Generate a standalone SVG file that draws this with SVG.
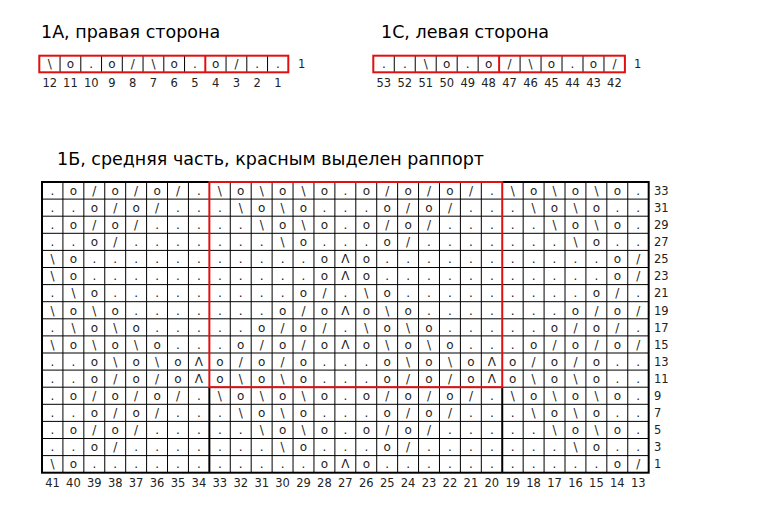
<svg xmlns="http://www.w3.org/2000/svg" width="766" height="524" viewBox="0 0 766 524">
<style>
.t{font-family:"DejaVu Sans",Verdana,sans-serif;fill:#000}
.title{font-size:17.5px}
.sym{font-size:12px;fill:#222;text-anchor:middle}
.num{font-size:11.5px;fill:#222;text-anchor:middle}
.rl{font-size:11.5px;fill:#222}
.grid{stroke:#000;stroke-width:1;fill:none}
.thick{stroke:#000;stroke-width:2;fill:none}
.red{stroke:#e01010;stroke-width:2;fill:none}
</style>
<rect width="766" height="524" fill="#fff"/>

<!-- 1A -->
<g id="chart-1A">
<text class="t title" x="41" y="38">1А, правая сторона</text>
<path class="grid" d="M60.05 55.7V72.3M80.8 55.7V72.3M101.55 55.7V72.3M122.3 55.7V72.3M143.05 55.7V72.3M163.8 55.7V72.3M184.55 55.7V72.3M226.05 55.7V72.3M246.8 55.7V72.3M267.55 55.7V72.3"/>
<path class="red" d="M205.3 55.7V72.3"/>
<rect class="red" x="39.3" y="55.7" width="249" height="16.6"/>
<text class="t sym" x="49.7 70.4 91.2 111.9 132.7 153.4 174.2 194.9 215.7 236.4 257.2 277.9" y="68">\o.o/\o.o/..</text>
<text class="t rl" x="298" y="68">1</text>
<g class="t num">
<text x="49.7" y="86.5">12</text><text x="70.4" y="86.5">11</text><text x="91.2" y="86.5">10</text><text x="111.9" y="86.5">9</text><text x="132.7" y="86.5">8</text><text x="153.4" y="86.5">7</text><text x="174.2" y="86.5">6</text><text x="194.9" y="86.5">5</text><text x="215.7" y="86.5">4</text><text x="236.4" y="86.5">3</text><text x="257.2" y="86.5">2</text><text x="277.9" y="86.5">1</text>
</g>
</g>

<!-- 1C -->
<g id="chart-1C">
<text class="t title" x="381" y="38">1С, левая сторона</text>
<path class="grid" d="M394.27 55.7V72.3M415.24 55.7V72.3M436.21 55.7V72.3M457.18 55.7V72.3M478.15 55.7V72.3M520.09 55.7V72.3M541.06 55.7V72.3M562.03 55.7V72.3M583 55.7V72.3M603.97 55.7V72.3"/>
<path class="red" d="M499.12 55.7V72.3"/>
<rect class="red" x="373.3" y="55.7" width="251.6" height="16.6"/>
<text class="t sym" x="383.8 404.8 425.7 446.7 467.7 488.6 509.6 530.6 551.5 572.5 593.5 614.4" y="68">..\o.o/\o.o/</text>
<text class="t rl" x="634" y="68">1</text>
<g class="t num">
<text x="383.8" y="86.5">53</text><text x="404.8" y="86.5">52</text><text x="425.7" y="86.5">51</text><text x="446.7" y="86.5">50</text><text x="467.7" y="86.5">49</text><text x="488.6" y="86.5">48</text><text x="509.6" y="86.5">47</text><text x="530.6" y="86.5">46</text><text x="551.5" y="86.5">45</text><text x="572.5" y="86.5">44</text><text x="593.5" y="86.5">43</text><text x="614.4" y="86.5">42</text>
</g>
</g>

<!-- 1B -->
<g id="chart-1B">
<text class="t title" x="57" y="165">1Б, средняя часть, красным выделен раппорт</text>
<path class="grid" d="M62.92 182V472.7M83.84 182V472.7M104.76 182V472.7M125.68 182V472.7M146.6 182V472.7M167.52 182V472.7M188.44 182V472.7M230.28 182V472.7M251.2 182V472.7M272.12 182V472.7M293.04 182V472.7M313.96 182V472.7M334.88 182V472.7M355.8 182V472.7M376.72 182V472.7M397.64 182V472.7M418.56 182V472.7M439.48 182V472.7M460.4 182V472.7M481.32 182V472.7M523.16 182V472.7M544.08 182V472.7M565 182V472.7M585.92 182V472.7M606.84 182V472.7M627.76 182V472.7M42 199.1H648.68M42 216.2H648.68M42 233.3H648.68M42 250.4H648.68M42 267.5H648.68M42 284.6H648.68M42 301.7H648.68M42 318.8H648.68M42 335.9H648.68M42 353H648.68M42 370.1H648.68M42 404.3H648.68M42 421.4H648.68M42 438.5H648.68M42 455.6H648.68"/>
<path class="grid" d="M42 387.2H648.68"/>
<rect class="thick" x="42" y="182" width="606.68" height="290.7"/>
<path class="thick" d="M209.36 387.2V472.7M502.24 387.2V472.7"/>
<rect class="red" x="209.36" y="182" width="292.88" height="205.2"/>
<g class="t sym">
<text x="52.5 73.4 94.3 115.2 136.1 157.1 178 198.9 219.8 240.7 261.7 282.6 303.5 324.4 345.3 366.3 387.2 408.1 429 449.9 470.9 491.8 512.7 533.6 554.5 575.5 596.4 617.3 638.2" y="194.8">.o/o/o/.\o\o\o.o/o/o/.\o\o\o.</text>
<text x="52.5 73.4 94.3 115.2 136.1 157.1 178 198.9 219.8 240.7 261.7 282.6 303.5 324.4 345.3 366.3 387.2 408.1 429 449.9 470.9 491.8 512.7 533.6 554.5 575.5 596.4 617.3 638.2" y="211.9">..o/o/...\o\o...o/o/...\o\o..</text>
<text x="52.5 73.4 94.3 115.2 136.1 157.1 178 198.9 219.8 240.7 261.7 282.6 303.5 324.4 345.3 366.3 387.2 408.1 429 449.9 470.9 491.8 512.7 533.6 554.5 575.5 596.4 617.3 638.2" y="229">.o/o/.....\o\o.o/o/.....\o\o.</text>
<text x="52.5 73.4 94.3 115.2 136.1 157.1 178 198.9 219.8 240.7 261.7 282.6 303.5 324.4 345.3 366.3 387.2 408.1 429 449.9 470.9 491.8 512.7 533.6 554.5 575.5 596.4 617.3 638.2" y="246.1">..o/.......\o...o/.......\o..</text>
<text x="52.5 73.4 94.3 115.2 136.1 157.1 178 198.9 219.8 240.7 261.7 282.6 303.5 324.4 345.3 366.3 387.2 408.1 429 449.9 470.9 491.8 512.7 533.6 554.5 575.5 596.4 617.3 638.2" y="263.2">\o...........oΛo...........o/</text>
<text x="52.5 73.4 94.3 115.2 136.1 157.1 178 198.9 219.8 240.7 261.7 282.6 303.5 324.4 345.3 366.3 387.2 408.1 429 449.9 470.9 491.8 512.7 533.6 554.5 575.5 596.4 617.3 638.2" y="280.3">\o...........oΛo...........o/</text>
<text x="52.5 73.4 94.3 115.2 136.1 157.1 178 198.9 219.8 240.7 261.7 282.6 303.5 324.4 345.3 366.3 387.2 408.1 429 449.9 470.9 491.8 512.7 533.6 554.5 575.5 596.4 617.3 638.2" y="297.4">.\o.........o/.\o.........o/.</text>
<text x="52.5 73.4 94.3 115.2 136.1 157.1 178 198.9 219.8 240.7 261.7 282.6 303.5 324.4 345.3 366.3 387.2 408.1 429 449.9 470.9 491.8 512.7 533.6 554.5 575.5 596.4 617.3 638.2" y="314.5">\o\o.......o/oΛo\o.......o/o/</text>
<text x="52.5 73.4 94.3 115.2 136.1 157.1 178 198.9 219.8 240.7 261.7 282.6 303.5 324.4 345.3 366.3 387.2 408.1 429 449.9 470.9 491.8 512.7 533.6 554.5 575.5 596.4 617.3 638.2" y="331.6">.\o\o.....o/o/.\o\o.....o/o/.</text>
<text x="52.5 73.4 94.3 115.2 136.1 157.1 178 198.9 219.8 240.7 261.7 282.6 303.5 324.4 345.3 366.3 387.2 408.1 429 449.9 470.9 491.8 512.7 533.6 554.5 575.5 596.4 617.3 638.2" y="348.7">\o\o\o...o/o/oΛo\o\o...o/o/o/</text>
<text x="52.5 73.4 94.3 115.2 136.1 157.1 178 198.9 219.8 240.7 261.7 282.6 303.5 324.4 345.3 366.3 387.2 408.1 429 449.9 470.9 491.8 512.7 533.6 554.5 575.5 596.4 617.3 638.2" y="365.8">..o\o\oΛo/o/o...o\o\oΛo/o/o..</text>
<text x="52.5 73.4 94.3 115.2 136.1 157.1 178 198.9 219.8 240.7 261.7 282.6 303.5 324.4 345.3 366.3 387.2 408.1 429 449.9 470.9 491.8 512.7 533.6 554.5 575.5 596.4 617.3 638.2" y="382.9">..o/o/oΛo\o\o...o/o/oΛo\o\o..</text>
<text x="52.5 73.4 94.3 115.2 136.1 157.1 178 198.9 219.8 240.7 261.7 282.6 303.5 324.4 345.3 366.3 387.2 408.1 429 449.9 470.9 491.8 512.7 533.6 554.5 575.5 596.4 617.3 638.2" y="400">.o/o/o/.\o\o\o.o/o/o/.\o\o\o.</text>
<text x="52.5 73.4 94.3 115.2 136.1 157.1 178 198.9 219.8 240.7 261.7 282.6 303.5 324.4 345.3 366.3 387.2 408.1 429 449.9 470.9 491.8 512.7 533.6 554.5 575.5 596.4 617.3 638.2" y="417.1">..o/o/...\o\o...o/o/...\o\o..</text>
<text x="52.5 73.4 94.3 115.2 136.1 157.1 178 198.9 219.8 240.7 261.7 282.6 303.5 324.4 345.3 366.3 387.2 408.1 429 449.9 470.9 491.8 512.7 533.6 554.5 575.5 596.4 617.3 638.2" y="434.2">.o/o/.....\o\o.o/o/.....\o\o.</text>
<text x="52.5 73.4 94.3 115.2 136.1 157.1 178 198.9 219.8 240.7 261.7 282.6 303.5 324.4 345.3 366.3 387.2 408.1 429 449.9 470.9 491.8 512.7 533.6 554.5 575.5 596.4 617.3 638.2" y="451.3">..o/.......\o...o/.......\o..</text>
<text x="52.5 73.4 94.3 115.2 136.1 157.1 178 198.9 219.8 240.7 261.7 282.6 303.5 324.4 345.3 366.3 387.2 408.1 429 449.9 470.9 491.8 512.7 533.6 554.5 575.5 596.4 617.3 638.2" y="468.4">\o...........oΛo...........o/</text>
</g>
<g class="t rl">
<text x="654" y="194.8">33</text><text x="654" y="211.9">31</text><text x="654" y="229">29</text><text x="654" y="246.1">27</text><text x="654" y="263.2">25</text><text x="654" y="280.3">23</text><text x="654" y="297.4">21</text><text x="654" y="314.5">19</text><text x="654" y="331.6">17</text><text x="654" y="348.7">15</text><text x="654" y="365.8">13</text><text x="654" y="382.9">11</text><text x="654" y="400">9</text><text x="654" y="417.1">7</text><text x="654" y="434.2">5</text><text x="654" y="451.3">3</text><text x="654" y="468.4">1</text>
</g>
<g class="t num">
<text x="52.5" y="486.5">41</text><text x="73.4" y="486.5">40</text><text x="94.3" y="486.5">39</text><text x="115.2" y="486.5">38</text><text x="136.1" y="486.5">37</text><text x="157.1" y="486.5">36</text><text x="178" y="486.5">35</text><text x="198.9" y="486.5">34</text><text x="219.8" y="486.5">33</text><text x="240.7" y="486.5">32</text><text x="261.7" y="486.5">31</text><text x="282.6" y="486.5">30</text><text x="303.5" y="486.5">29</text><text x="324.4" y="486.5">28</text><text x="345.3" y="486.5">27</text><text x="366.3" y="486.5">26</text><text x="387.2" y="486.5">25</text><text x="408.1" y="486.5">24</text><text x="429" y="486.5">23</text><text x="449.9" y="486.5">22</text><text x="470.9" y="486.5">21</text><text x="491.8" y="486.5">20</text><text x="512.7" y="486.5">19</text><text x="533.6" y="486.5">18</text><text x="554.5" y="486.5">17</text><text x="575.5" y="486.5">16</text><text x="596.4" y="486.5">15</text><text x="617.3" y="486.5">14</text><text x="638.2" y="486.5">13</text>
</g>
</g>
</svg>
